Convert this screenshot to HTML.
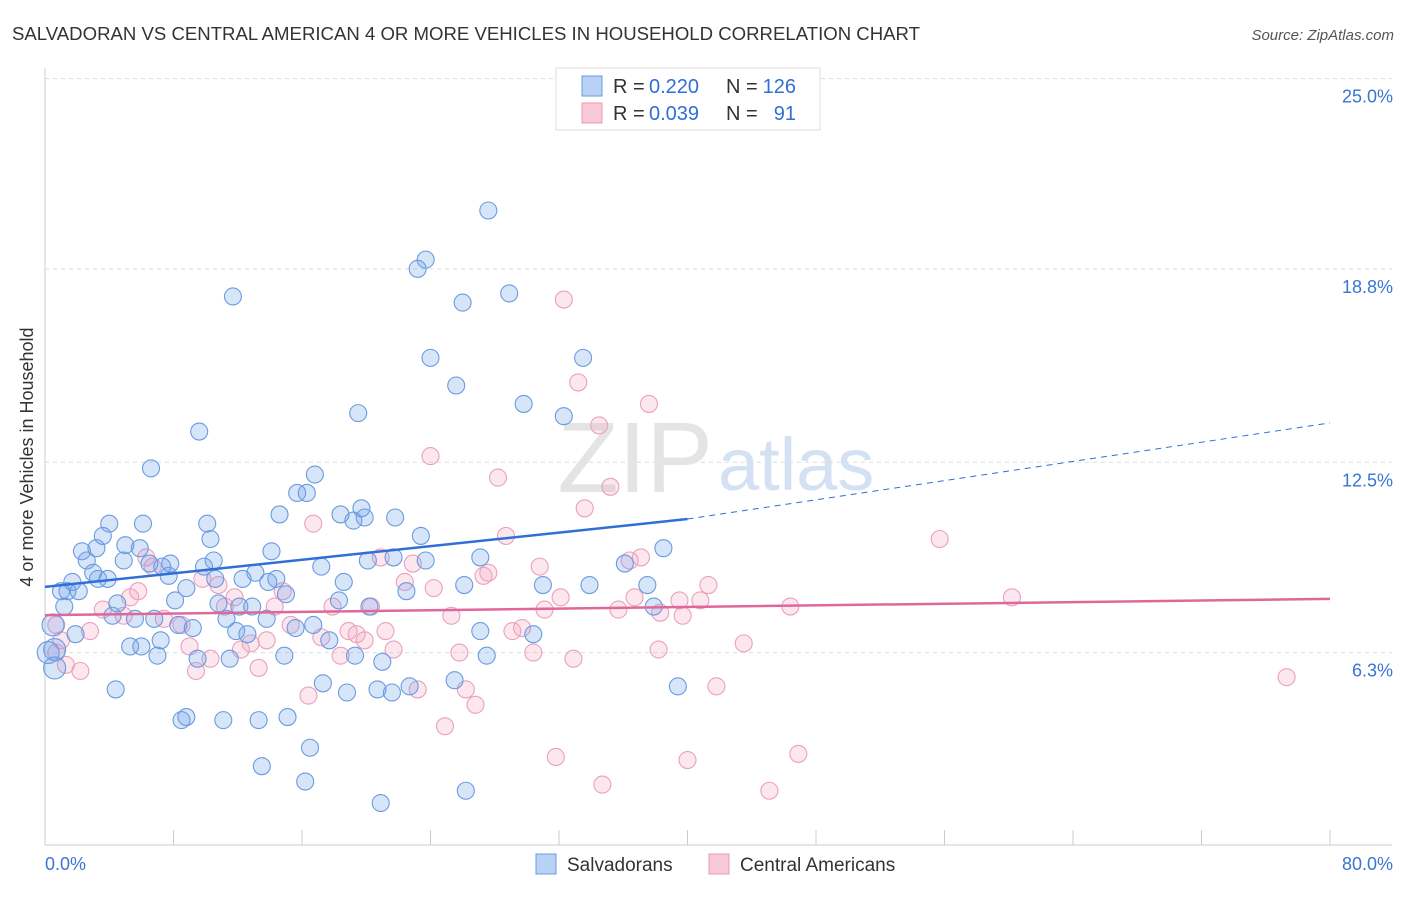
<!DOCTYPE html>
<html><head><meta charset="utf-8"><style>
body{margin:0;background:#fff;font-family:"Liberation Sans",sans-serif}
svg text{font-family:"Liberation Sans",sans-serif}
</style></head><body>
<svg id="c" width="1406" height="892">
<text x="12" y="40" font-size="18" fill="#333" textLength="908" lengthAdjust="spacingAndGlyphs">SALVADORAN VS CENTRAL AMERICAN 4 OR MORE VEHICLES IN HOUSEHOLD CORRELATION CHART</text>
<text x="1394" y="40" font-size="15" fill="#555" font-style="italic" text-anchor="end">Source: ZipAtlas.com</text>
<text transform="translate(33,457) rotate(-90)" font-size="18" fill="#333" text-anchor="middle">4 or more Vehicles in Household</text>
<g id="grid"></g>
<text x="713" y="492" font-size="100" fill="#e4e4e4" text-anchor="end" font-family="Liberation Serif">ZIP</text>
<text x="718" y="490" font-size="74" fill="#d4e1f3">atlas</text>
<g id="marks"></g>
<g>
<rect x="556" y="68" width="264" height="62" fill="#fff" stroke="#ddd"/>
<rect x="582" y="76" width="20" height="20" fill="#b9d1f5" stroke="#6a9be0"/>
<rect x="582" y="103" width="20" height="20" fill="#f9c8d7" stroke="#e89ab5"/>
<text x="613" y="93" font-size="20" fill="#333">R =</text>
<text x="649" y="93" font-size="20" fill="#2f6fd6">0.220</text>
<text x="726" y="93" font-size="20" fill="#333">N =</text>
<text x="796" y="93" font-size="20" fill="#2f6fd6" text-anchor="end">126</text>
<text x="613" y="120" font-size="20" fill="#333">R =</text>
<text x="649" y="120" font-size="20" fill="#2f6fd6">0.039</text>
<text x="726" y="120" font-size="20" fill="#333">N =</text>
<text x="796" y="120" font-size="20" fill="#2f6fd6" text-anchor="end">91</text>
</g>
<g>
<rect x="536" y="854" width="20" height="20" fill="#b9d1f5" stroke="#6a9be0"/>
<text x="567" y="871" font-size="19" fill="#333">Salvadorans</text>
<rect x="709" y="854" width="20" height="20" fill="#f9c8d7" stroke="#e89ab5"/>
<text x="740" y="871" font-size="19" fill="#333">Central Americans</text>
</g>
</svg>
<script>
const yTicks=[25.0,18.8,12.5,6.3];
const yTickLabels=["25.0%","18.8%","12.5%","6.3%"];
const xTickVals=[0,8,16,24,32,40,48,56,64,72,80];
const blueX=[27.6,23.7,23.2,28.9,11.7,26.0,24.0,33.5,25.6,29.8,19.5,32.3,9.6,6.6,16.8,15.7,16.3,14.6,19.7,18.4,19.2,19.9,21.8,10.1,6.1,4.0,3.6,10.3,23.4,38.5,3.2,5.0,5.9,2.3,14.1,27.1,21.7,20.1,23.7,10.5,2.6,4.9,7.8,7.3,6.5,36.1,17.2,9.9,3.0,13.1,7.7,12.3,14.4,10.6,13.9,1.7,3.3,3.9,18.6,26.1,31.0,33.9,37.5,1.0,1.4,2.1,8.8,22.5,15.0,18.3,8.1,4.5,1.2,10.8,12.1,12.9,20.2,37.9,4.2,5.6,6.8,11.3,13.8,0.5,8.3,9.2,15.6,16.7,11.9,12.6,27.1,30.4,1.9,7.2,17.7,5.3,6.0,0.6,0.2,7.0,14.9,19.3,27.5,9.5,11.5,21.0,0.6,25.5,39.4,17.3,4.4,18.8,20.7,21.6,22.7,8.8,8.5,11.1,13.3,15.1,16.5,13.5,16.2,26.2,20.9];
const blueY=[20.7,19.1,18.8,18.0,17.9,17.7,15.9,15.9,15.0,14.4,14.1,14.0,13.5,12.3,12.1,11.5,11.5,10.8,11.0,10.8,10.6,10.7,10.7,10.5,10.5,10.5,10.1,10.0,10.1,9.7,9.7,9.8,9.7,9.6,9.6,9.4,9.4,9.3,9.3,9.3,9.3,9.3,9.2,9.1,9.2,9.2,9.1,9.1,8.9,8.9,8.8,8.7,8.7,8.7,8.6,8.6,8.7,8.7,8.6,8.5,8.5,8.5,8.5,8.3,8.3,8.3,8.4,8.3,8.2,8.0,8.0,7.9,7.8,7.9,7.8,7.8,7.8,7.8,7.5,7.4,7.4,7.4,7.4,7.2,7.2,7.1,7.1,7.2,7.0,6.9,7.0,6.9,6.9,6.7,6.7,6.5,6.5,6.4,6.3,6.2,6.2,6.2,6.2,6.1,6.1,6.0,5.8,5.4,5.2,5.3,5.1,5.0,5.1,5.0,5.2,4.2,4.1,4.1,4.1,4.2,3.2,2.6,2.1,1.8,1.4];
const pinkX=[32.3,33.2,37.6,34.5,24.0,28.2,35.2,33.6,16.7,28.7,55.7,6.3,20.9,37.1,36.4,6.7,22.9,30.8,27.6,27.3,9.8,10.8,22.4,24.2,41.3,5.8,5.3,11.8,14.8,32.1,36.7,39.5,40.8,60.2,17.9,20.3,46.4,3.6,11.2,14.3,31.1,35.7,25.3,38.3,39.7,4.9,7.4,0.7,2.8,8.5,15.3,18.9,19.4,21.2,29.1,29.7,1.0,13.8,17.2,19.9,12.8,9.0,12.2,21.7,25.8,30.4,38.2,43.5,0.7,18.4,10.3,32.9,1.3,13.3,9.4,2.2,77.3,41.8,26.2,23.2,16.4,26.8,24.9,46.9,31.8,40.0,34.7,45.1];
const pinkY=[17.8,15.1,14.4,13.7,12.7,12.0,11.7,11.0,10.5,10.1,10.0,9.4,9.4,9.4,9.3,9.1,9.2,9.1,8.9,8.8,8.7,8.5,8.6,8.4,8.5,8.3,8.1,8.1,8.3,8.1,8.1,8.0,8.0,8.1,7.8,7.8,7.8,7.7,7.8,7.8,7.7,7.7,7.5,7.6,7.5,7.5,7.4,7.2,7.0,7.2,7.2,7.0,6.9,7.0,7.0,7.1,6.7,6.7,6.8,6.7,6.6,6.5,6.4,6.4,6.3,6.3,6.4,6.6,6.3,6.2,6.1,6.1,5.9,5.8,5.7,5.7,5.5,5.2,5.1,5.1,4.9,4.6,3.9,3.0,2.9,2.8,2.0,1.8];
const blueTrendX=[0,40,80];
const blueTrendY=[8.44,10.65,13.78];
const pinkTrendX=[0,80];
const pinkTrendY=[7.52,8.05];

const NS="http://www.w3.org/2000/svg";
const X0=45,X1=1330,Y0=846,PY=30.7;
function sx(v){return X0+(X1-X0)*v/80;}
function sy(v){return Y0-v*PY;}
function mk(t,a,p){const e=document.createElementNS(NS,t);for(const k in a)e.setAttribute(k,a[k]);p.appendChild(e);return e;}
const grid=document.getElementById('grid'),marks=document.getElementById('marks');
yTicks.forEach((v,i)=>{
  const l=mk('line',{x1:45,x2:1392,y1:sy(v),y2:sy(v),stroke:'#ddd','stroke-dasharray':'4,4'},grid);
  
  
  const t=mk('text',{x:1393,y:sy(v)+24,'font-size':18,fill:'#3a75d6','text-anchor':'end'},grid);
  t.textContent=yTickLabels[i];
  
  
});
const ax=mk('line',{x1:45,x2:45,y1:68,y2:845,stroke:'#ccc'},grid);


const bx=mk('line',{x1:45,x2:1392,y1:845,y2:845,stroke:'#ccc'},grid);


xTickVals.forEach(v=>{
  const t=mk('line',{x1:sx(v),x2:sx(v),y1:830,y2:845,stroke:'#ccc'},grid);
  
  
});
const xl=mk('text',{x:45,y:870,'font-size':18,fill:'#3a75d6'},grid);xl.textContent='0.0%';


const xr=mk('text',{x:1393,y:870,'font-size':18,fill:'#3a75d6','text-anchor':'end'},grid);xr.textContent='80.0%';



function pts(xs,ys,fill,stroke,name){
  xs.forEach((x,i)=>{
    const r=x<0.7?11:8.5;
    const c=mk('circle',{cx:sx(x),cy:sy(ys[i]),r:r,fill:fill,stroke:stroke,'stroke-width':1.1},marks);
    
    
  });
}
pts(pinkX,pinkY,'rgba(244,160,190,0.25)','#eba0bb','central-american-point');
pts(blueX,blueY,'rgba(110,160,235,0.28)','#6a9be0','salvadoran-point');
const bl=mk('line',{x1:sx(blueTrendX[0]),y1:sy(blueTrendY[0]),x2:sx(blueTrendX[1]),y2:sy(blueTrendY[1]),stroke:'#2f6fd6','stroke-width':2.5},marks);


const bd=mk('line',{x1:sx(blueTrendX[1]),y1:sy(blueTrendY[1]),x2:sx(blueTrendX[2]),y2:sy(blueTrendY[2]),stroke:'#2f6fd6','stroke-width':1,'stroke-dasharray':'6,5'},marks);


const pl=mk('line',{x1:sx(pinkTrendX[0]),y1:sy(pinkTrendY[0]),x2:sx(pinkTrendX[1]),y2:sy(pinkTrendY[1]),stroke:'#e0679a','stroke-width':2.5},marks);


</script>
</body></html>
